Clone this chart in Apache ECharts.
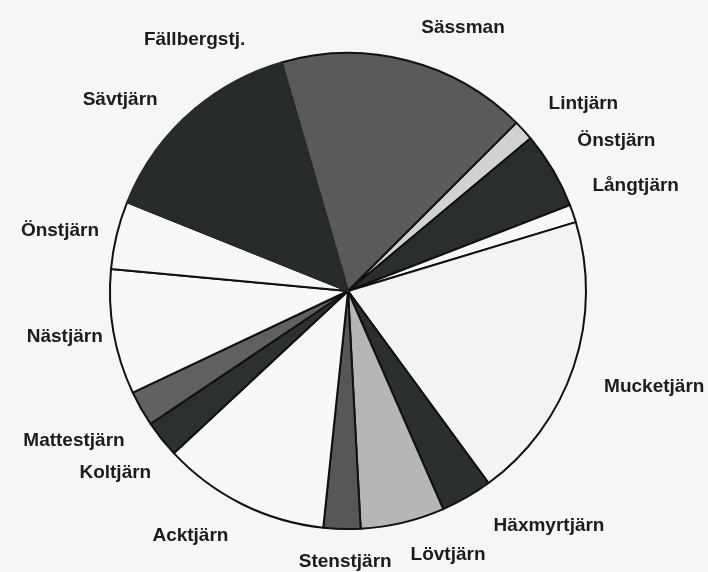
<!DOCTYPE html>
<html>
<head>
<meta charset="utf-8">
<script src="https://cdn.jsdelivr.net/npm/echarts@6/dist/echarts.min.js"></script>
<style>
html,body{margin:0;padding:0;background:#f6f6f4;}
#c{width:708px;height:572px;}
</style>
</head>
<body>
<div id="c"></div>
<script>
// Slice names (clockwise from the top, starting with Sässman)
const names = ['Sässman','Lintjärn','Önstjärn','Långtjärn','Mucketjärn','Häxmyrtjärn','Lövtjärn','Stenstjärn','Acktjärn','Koltjärn','Mattestjärn','Nästjärn','Önstjärn','Sävtjärn','Fällbergstj.'];
// Share of each slice (%)
const values = [17.0, 1.4, 5.2, 1.2, 19.6, 3.5, 5.7, 2.5, 11.4, 2.5, 2.4, 8.5, 4.6, 7.8, 6.6];

// styling: fills and label nudges (not data)
const fills = ['#595a59','#d2d2d0','#2a2e2d','#f7f7f6','#f3f3f2','#2b2f2e','#b6b6b4','#575856','#f8f8f7','#2c302f','#606160','#f8f8f7','#f7f7f6','#272b2a','#272b2a'];
const nudges = [[2,-21],[7,-19],[5,-23],[-1,-24],[10,17],[12,18],[-4,20],[59,21],[1,21],[8,26],[3,26],[10,2],[3,-1],[21,-44],[24,-31]];

const chart = echarts.init(document.getElementById('c'), null, {renderer:'canvas'});
chart.setOption({
  backgroundColor:'#f6f6f4',
  animation:false,
  series:[{
    type:'pie',
    center:[348,291],
    radius:238,
    startAngle:106.2,
    clockwise:true,
    avoidLabelOverlap:false,
    itemStyle:{borderColor:'#111',borderWidth:2},
    label:{
      show:true,position:'outside',
      fontFamily:'Liberation Sans, Arial, sans-serif',
      fontWeight:'bold',fontSize:19,color:'#1c1c1c'
    },
    labelLine:{show:false,length:12,length2:4},
    labelLayout:function(p){const o=nudges[p.dataIndex];return {dx:o[0],dy:o[1]};},
    emphasis:{disabled:true},
    data:names.map((n,i)=>{
      const dark = (i===13||i===14);
      return {name:n,value:values[i],itemStyle:{color:fills[i],borderColor:dark?fills[i]:'#111'}};
    })
  }]
});
</script>
</body>
</html>
